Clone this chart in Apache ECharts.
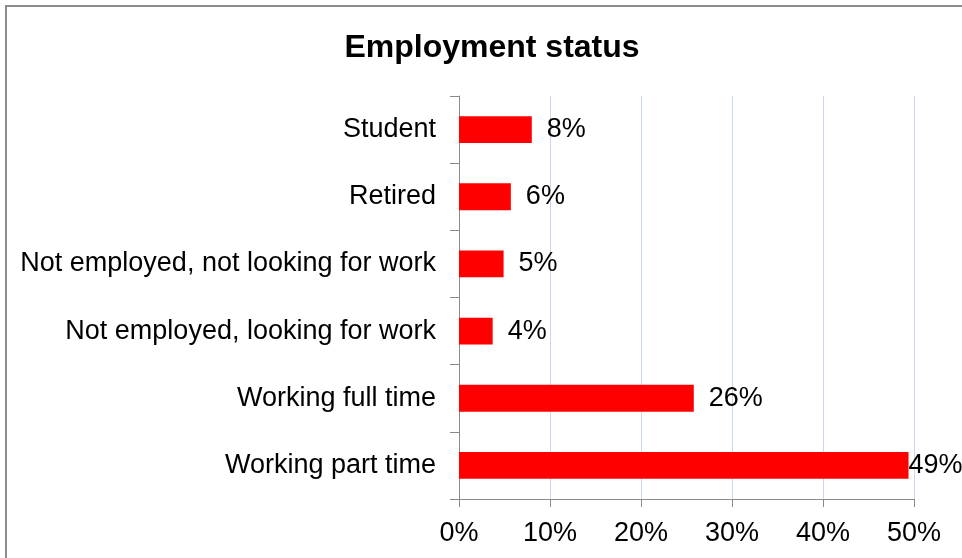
<!DOCTYPE html>
<html>
<head>
<meta charset="utf-8">
<script src="https://cdn.jsdelivr.net/npm/echarts@6/dist/echarts.min.js"></script>
<style>
  html, body { margin: 0; padding: 0; background: #fff; }
  #chart { width: 962px; height: 558px; }
</style>
</head>
<body>
<div id="chart"></div>
<script>
// 数据 (top to bottom)
const categories = [
  'Student',
  'Retired',
  'Not employed, not looking for work',
  'Not employed, looking for work',
  'Working full time',
  'Working part time'
]
const shares = [8.0, 5.7, 4.9, 3.7, 25.8, 49.4]
const xTicks = [0, 10, 20, 30, 40, 50]

const FONT = '"Liberation Sans", Arial, sans-serif'

const myChart = echarts.init(document.getElementById('chart'))

const option = {
  backgroundColor: '#fff',
  animation: false,
  textStyle: { fontFamily: FONT, color: '#000' },
  graphic: [{
    type: 'rect',
    shape: { x: 6, y: 6, width: 1000, height: 600 },
    style: { fill: 'none', stroke: '#8c8c8c', lineWidth: 2 },
    silent: true
  }],
  title: {
    text: 'Employment status',
    left: 487,
    top: 27,
    textAlign: 'center',
    textStyle: { fontFamily: FONT, fontSize: 32, fontWeight: 'bold', color: '#000' }
  },
  grid: { left: 459, right: 48, top: 96, bottom: 59 },
  xAxis: {
    type: 'value',
    min: xTicks[0],
    max: xTicks[xTicks.length - 1],
    interval: xTicks[1] - xTicks[0],
    axisLine: { show: true, lineStyle: { color: '#8a8a8a', width: 1 } },
    axisTick: { show: true, length: 8, lineStyle: { color: '#8a8a8a' } },
    axisLabel: {
      margin: 21,
      fontSize: 27,
      color: '#000',
      fontFamily: FONT,
      formatter: '{value}%'
    },
    splitLine: { show: true, lineStyle: { color: '#cbd9ec', width: 1 } }
  },
  yAxis: {
    type: 'category',
    inverse: true,
    data: categories,
    axisLine: { show: true, lineStyle: { color: '#8a8a8a', width: 1 } },
    axisTick: { show: true, length: 9, alignWithLabel: false, lineStyle: { color: '#8a8a8a' } },
    axisLabel: { margin: 23, fontSize: 27, color: '#000', fontFamily: FONT }
  },
  series: [{
    type: 'bar',
    barCategoryGap: '60%',
    data: shares.map((v, i) => ({
      value: v,
      label: { distance: i === shares.length - 1 ? 0 : 15 }
    })),
    itemStyle: { color: '#ff0000' },
    label: {
      show: true,
      position: 'right',
      fontSize: 27,
      color: '#000',
      fontFamily: FONT,
      formatter: (p) => Math.round(p.value) + '%'
    }
  }]
}

myChart.setOption(option)
</script>
</body>
</html>
